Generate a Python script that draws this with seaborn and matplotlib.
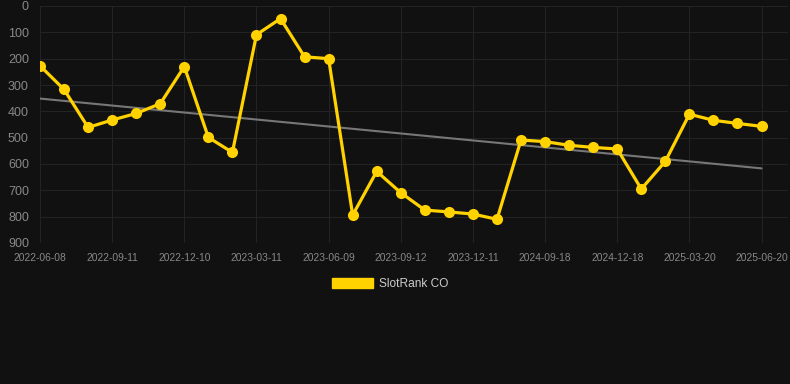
import numpy as np
import pandas as pd
import matplotlib
matplotlib.use("Agg")
import matplotlib.pyplot as plt
import seaborn as sns

# dates on the category axis (only every 3rd one is labelled in the chart)
dates = [
    "2022-06-08", "2022-07-09", "2022-08-10",
    "2022-09-11", "2022-10-10", "2022-11-09",
    "2022-12-10", "2023-01-09", "2023-02-09",
    "2023-03-11", "2023-04-10", "2023-05-10",
    "2023-06-09", "2023-07-11", "2023-08-11",
    "2023-09-12", "2023-10-12", "2023-11-11",
    "2023-12-11", "2024-01-10", "2024-08-19",
    "2024-09-18", "2024-10-18", "2024-11-17",
    "2024-12-18", "2025-01-18", "2025-02-18",
    "2025-03-20", "2025-04-20", "2025-05-20",
    "2025-06-20",
]
rank = [227, 317, 461, 433, 408, 371, 230, 499, 556, 109, 48, 193, 200,
        794, 628, 709, 775, 782, 790, 810, 509, 515, 529, 537, 543, 695,
        590, 411, 434, 446, 457]
series_name = "SlotRank CO"

bg = "#111111"
gold = "#FFD200"

df = pd.DataFrame({"idx": np.arange(len(dates)), "date": dates, "rank": rank})

sns.set_theme(style="dark")
plt.rcParams["font.family"] = ["Liberation Sans", "DejaVu Sans"]

fig = plt.figure(figsize=(7.9, 3.84), dpi=100, facecolor=bg)
ax = fig.add_axes([40 / 790, 141 / 384, 748 / 790, 237 / 384])
ax.set_facecolor(bg)

# trend line (least squares fit)
slope, intercept = np.polyfit(df["idx"], df["rank"], 1)
ax.plot(df["idx"], slope * df["idx"] + intercept, color="#777777", lw=1.5, zorder=2)

sns.lineplot(data=df, x="idx", y="rank", ax=ax, color=gold, lw=2.3,
             marker="o", markersize=8, markeredgewidth=0, zorder=3,
             label=series_name, legend=False)

ax.set_xlim(0, 31.1)
ax.set_ylim(900, 0)
ax.set_yticks(range(0, 1000, 100))
ax.set_xticks(df["idx"][::3])
ax.set_xticklabels(df["date"][::3])
ax.set_xlabel("")
ax.set_ylabel("")

ax.grid(True, color="#232323", lw=0.8)
for s in ax.spines.values():
    s.set_visible(False)
ax.tick_params(axis="y", labelsize=9, length=0, pad=8)
ax.tick_params(axis="x", labelsize=7.4, length=0, pad=7)
for lab in ax.get_yticklabels() + ax.get_xticklabels():
    lab.set_color("#888888")

# legend below the plot
handle = plt.Rectangle((0, 0), 1, 1, color=gold)
fig.legend([handle], [series_name], loc="center", bbox_to_anchor=(390 / 790, 1 - 284 / 384),
           frameon=False, fontsize=8.6, labelcolor="#cccccc", handlelength=3.4,
           handleheight=0.85, handletextpad=0.5)

fig.savefig("out.png", dpi=100, facecolor=bg)
